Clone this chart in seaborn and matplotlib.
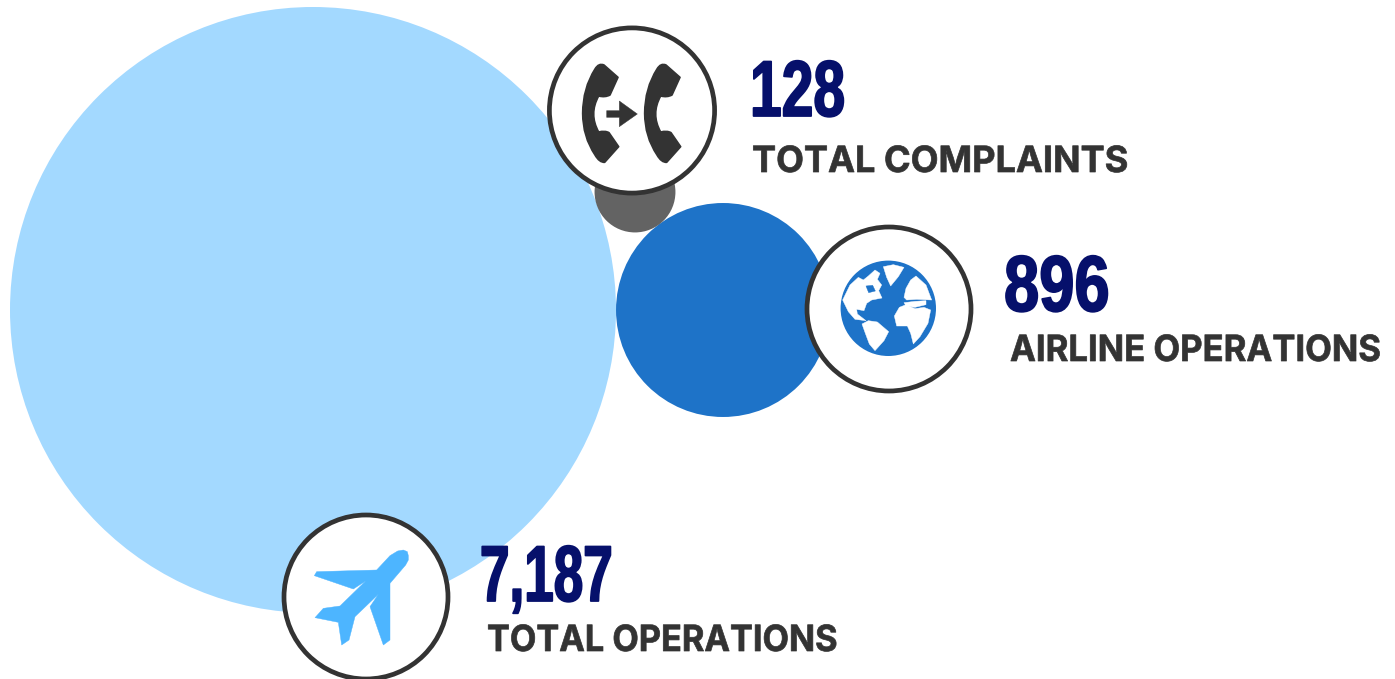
import matplotlib
matplotlib.use("Agg")
import matplotlib.pyplot as plt
from matplotlib.patches import Circle, Polygon, PathPatch
from matplotlib.path import Path
from matplotlib.patheffects import AbstractPathEffect
from matplotlib.transforms import Affine2D
import pandas as pd
import seaborn as sns

# Data
labels = ["TOTAL OPERATIONS", "AIRLINE OPERATIONS", "TOTAL COMPLAINTS"]
values = [7187, 896, 128]
value_text = ["7,187", "896", "128"]
# Layout (pixel space)
bubble_x = [313, 723, 635]
bubble_y = [310, 310, 192]
colors = ["#A3D9FF", "#1E73C8", "#636363"]

W, H, DPI = 1395, 679, 100
sns.set_theme(style="white")
fig = plt.figure(figsize=(W / DPI, H / DPI), dpi=DPI, facecolor="white")
ax = fig.add_axes([0, 0, 1, 1])

df = pd.DataFrame({"label": labels, "value": values, "x": bubble_x, "y": bubble_y})
k = ((2 * 303 * 72 / DPI) ** 2) / max(values)  # area per unit value (pt^2)
sns.scatterplot(data=df, x="x", y="y", hue="label", size="value", ax=ax,
                palette=dict(zip(labels, colors)),
                sizes={v: k * v for v in values},
                linewidth=0, legend=False, zorder=1, alpha=1)
ax.set_xlim(0, W)
ax.set_ylim(H, 0)
ax.set_axis_off()

DARK = "#333333"
NAVY = "#06106B"
BLUE = "#1E73C8"
NUM_FONT = ["Liberation Sans", "DejaVu Sans"]
LAB_FONT = ["Inter", "Open Sans", "DejaVu Sans"]


class WidthScale(AbstractPathEffect):
    """Draws a text horizontally scaled about its left edge, with an optional embolden."""

    def __init__(self, sx, bold=0.0):
        super().__init__()
        self.sx, self.bold = sx, bold

    def draw_path(self, renderer, gc, tpath, affine, rgbFace=None):
        x0 = affine.get_matrix()[0, 2]
        tr = affine + Affine2D().translate(-x0, 0).scale(self.sx, 1).translate(x0, 0)
        gc0 = renderer.new_gc()
        gc0.copy_properties(gc)
        gc0.set_foreground(rgbFace)
        gc0.set_linewidth(self.bold)
        gc0.set_joinstyle("round")
        renderer.draw_path(gc0, tpath, tr, rgbFace)
        gc0.restore()


def zp(points, ox, oy):
    return [(ox + px / 3, oy + py / 3) for px, py in points]


def ring(cx, cy, r=82):
    ax.add_patch(Circle((cx, cy), r, fc="white", ec=DARK, lw=3.4, zorder=3))


def poly(points, color, z=4, lw=1.0, clip=None):
    p = Polygon(points, closed=True, fc=color, ec=color, lw=lw, joinstyle="round", zorder=z)
    ax.add_patch(p)
    if clip is not None:
        p.set_clip_path(clip)
    return p


# Phone icon
ring(632, 110.5, r=82.6)


def handset(dx):
    M, L, C, Z = Path.MOVETO, Path.LINETO, Path.CURVE3, Path.CLOSEPOLY
    seq = [((192, 135), M), ((234, 172), L), ((210, 225), L),
           ((195, 233), C), ((176, 228), C),
           ((146, 282), C), ((176, 336), C),
           ((195, 331), C), ((207, 338), C),
           ((236, 380), L), ((194, 427), L),
           ((178, 428), C), ((165, 405), C),
           ((128, 350), C), ((128, 280), C),
           ((128, 205), C), ((165, 147), C),
           ((176, 128), C), ((192, 135), C),
           ((192, 135), Z)]
    pts = zp([(x + dx, y) for (x, y), _ in seq], 540, 20)
    path = Path(pts, [c for _, c in seq])
    ax.add_patch(PathPatch(path, fc=DARK, ec=DARK, lw=1.2, joinstyle="round", zorder=4))


handset(0)
handset(186)
poly(zp([(200, 272), (238, 272), (238, 243), (292, 282), (238, 320), (238, 292), (200, 292)],
        540, 20), DARK, lw=0.3)

# Globe icon
ring(889, 309)
disc = Circle((888.3, 308.3), 47.7, fc=BLUE, ec="none", zorder=4)
ax.add_patch(disc)
lands = [
    [(128, 240), (150, 195), (175, 172), (190, 180), (205, 168), (225, 150), (240, 160), (232, 178),
     (245, 195), (236, 212), (246, 234), (215, 240), (200, 250), (192, 272), (170, 268),
     (172, 282), (198, 302), (165, 298), (145, 275)],
    [(250, 140), (280, 134), (312, 142), (295, 170), (272, 198), (260, 172)],
    [(186, 312), (205, 302), (232, 306), (266, 335), (252, 362), (225, 392), (208, 372), (196, 340)],
    [(283, 288), (298, 262), (318, 254), (345, 266), (372, 262), (392, 270), (384, 310), (360, 350),
     (340, 372), (332, 340), (322, 318), (290, 318)],
    [(312, 232), (318, 205), (332, 180), (348, 168), (378, 195), (395, 240), (350, 238), (320, 240)],
]
for land in lands:
    poly(zp(land, 800, 220), "white", z=5, lw=0.3, clip=disc)
poly(zp([(198, 198), (218, 196), (226, 213), (206, 218)], 800, 220), BLUE, z=6, lw=0.3)
poly(zp([(312, 248), (345, 244), (378, 242), (378, 254), (345, 262), (318, 258)], 800, 220),
     "white", z=5, lw=0.3, clip=disc)

# Plane icon
ring(366, 597)
plane = [(400, 152), (397, 140), (385, 135), (368, 138), (345, 152), (305, 195), (125, 200),
         (118, 212), (235, 252), (272, 228), (195, 303), (145, 310), (120, 338), (190, 352),
         (200, 420), (222, 405), (240, 335), (310, 268), (285, 305), (325, 420), (345, 405),
         (345, 235), (392, 180), (400, 165)]
poly(zp(plane, 275, 505), "#4DB5FF", lw=0.3)

# Text: value, label anchors in pixels
val_pos = [(480, 601), (1004, 311), (750, 116)]
val_sx = [0.67, 0.80, 0.72]
lab_pos = [(487, 651), (1010, 361), (752, 172)]
lab_sx = [0.95, 0.96, 1.00]
for vt, lb, vp, lp, vs, ls in zip(value_text, labels, val_pos, lab_pos, val_sx, lab_sx):
    ax.text(vp[0], vp[1], vt, family=NUM_FONT, fontweight="bold", fontsize=57,
            color=NAVY, va="baseline", ha="left", zorder=6,
            path_effects=[WidthScale(vs, bold=1.3)])
    ax.text(lp[0], lp[1], lb, family=LAB_FONT, fontweight="bold", fontsize=26,
            color=DARK, va="baseline", ha="left", zorder=6,
            path_effects=[WidthScale(ls, bold=0.5)])

fig.savefig("out.png", dpi=DPI, facecolor="white")
